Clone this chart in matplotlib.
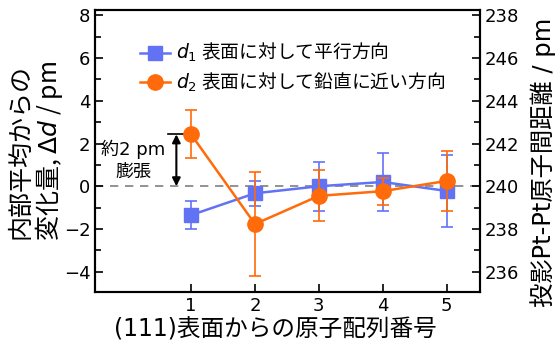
import matplotlib
matplotlib.use("Agg")
import matplotlib.pyplot as plt
from matplotlib.ticker import MultipleLocator

plt.rcParams['font.family'] = ['DejaVu Sans', 'Noto Sans CJK JP']
plt.rcParams['mathtext.fontset'] = 'dejavusans'
JP = 'Noto Sans CJK JP'

# data
layer = [1, 2, 3, 4, 5]
d1 = [-1.35, -0.33, 0.0, 0.2, -0.22]
d1_err = [0.67, 0.58, 1.15, 1.35, 1.7]
d2 = [2.43, -1.77, -0.45, -0.23, 0.25]
d2_err = [1.12, 2.45, 1.2, 0.63, 1.4]
right_ticks = [236, 238, 240, 242, 244, 246, 248]
right_labels = ["236", "238", "240", "242", "244", "246", "238"]

blue = '#6272f5'
orange = '#ff6a0a'

fig = plt.figure(figsize=(5.6, 3.6), dpi=100)
ax = fig.add_axes([0.17, 0.189, 0.687, 0.783])

ax.axhline(0, color='#808080', lw=1.2, ls=(0, (5, 4)), zorder=1)

e1 = ax.errorbar(layer, d1, yerr=d1_err, color=blue, marker='s', ms=10, lw=1.8,
                 capsize=4, elinewidth=1.2, capthick=1.2, zorder=3)
e2 = ax.errorbar(layer, d2, yerr=d2_err, color=orange, marker='o', ms=11, lw=1.8,
                 capsize=4, elinewidth=1.2, capthick=1.2, zorder=4)

ax.set_xlim(-0.5, 5.52)
ax.set_ylim(-4.95, 8.25)
ax.set_xticks(layer)
ax.yaxis.set_major_locator(MultipleLocator(2))
ax.yaxis.set_minor_locator(MultipleLocator(1))
ax.tick_params(direction='in', labelsize=13, length=6, width=1.2)
ax.tick_params(which='minor', direction='in', length=4, width=1.2)
for s in ax.spines.values():
    s.set_linewidth(1.5)

# expansion annotation
ax.plot([0.64, 0.9], [d2[0], d2[0]], color='black', lw=1.2)
ax.annotate('', xy=(0.77, 0.0), xytext=(0.77, d2[0]),
            arrowprops=dict(arrowstyle='<|-|>', color='black', lw=1.5,
                            mutation_scale=12, shrinkA=0, shrinkB=0))
ax.text(0.1, 1.72, '約2 pm', ha='center', va='center', fontsize=13)
ax.text(0.1, 0.65, '膨張', ha='center', va='center', fontsize=13)

ax.set_xlabel('(111)表面からの原子配列番号', fontsize=17, labelpad=2)
ax.xaxis.set_label_coords(0.468, -0.09)
ax.set_ylabel('内部平均からの\n変化量, $\\mathit{\\Delta d}$ / pm', fontsize=18,
              family=JP, linespacing=1.0, labelpad=-1)

ax2 = ax.twinx()
ax2.set_ylim(ax.get_ylim()[0] + 240, ax.get_ylim()[1] + 240)
ax2.set_yticks(right_ticks)
ax2.set_yticklabels(right_labels)
ax2.yaxis.set_minor_locator(MultipleLocator(1))
ax2.tick_params(direction='in', labelsize=13, length=6, width=1.2)
ax2.tick_params(which='minor', direction='in', length=4, width=1.2)
ax2.set_ylabel('投影Pt-Pt原子間距離 / pm', fontsize=17.5, va='center')
ax2.yaxis.set_label_coords(1.165, 0.46)
for s in ax2.spines.values():
    s.set_linewidth(1.5)

ax.legend([e1[0], e2[0]],
          [r'$d_1$ 表面に対して平行方向', r'$d_2$ 表面に対して鉛直に近い方向'],
          loc='upper left', bbox_to_anchor=(0.117, 0.89), frameon=False,
          borderpad=0, borderaxespad=0, prop={'family': JP, 'size': 13.5},
          handlelength=1.6, handletextpad=0.3, labelspacing=0.35)

fig.savefig('out.png', dpi=100)
